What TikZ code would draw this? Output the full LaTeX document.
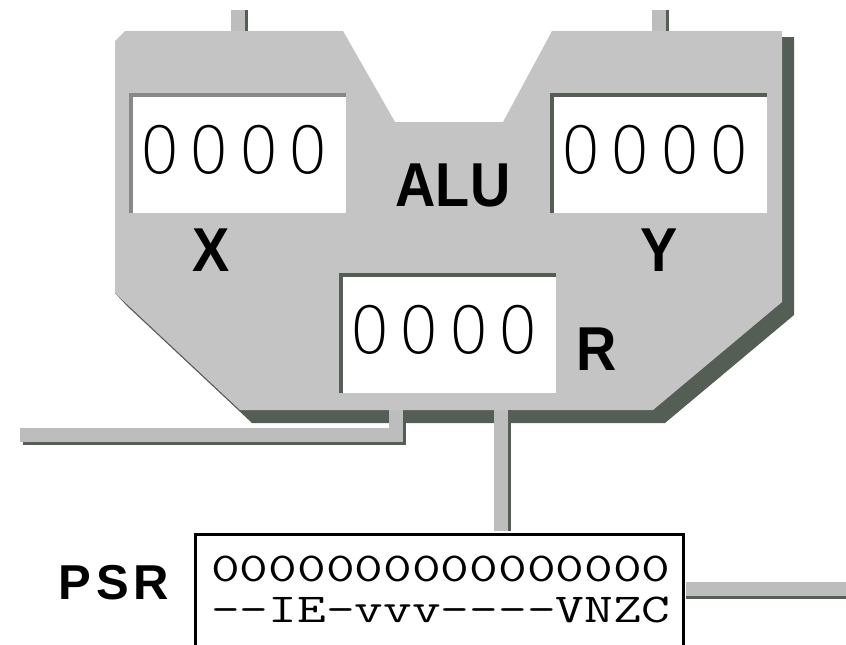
\documentclass[tikz,border=0pt]{standalone}
\usepackage{fontspec}
\usepackage{tikz}
\usetikzlibrary{positioning}
\newfontfamily\lblfont[FakeStretch=0.9]{Liberation Sans Bold}
\newfontfamily\psrlblfont[LetterSpace=10]{Liberation Sans Bold}
\newfontfamily\digfont[LetterSpace=12.5]{DejaVu Sans ExtraLight}
\newfontfamily\psrfont[FakeStretch=1.36]{Latin Modern Mono}
\definecolor{alugray}{HTML}{C4C4C4}
\definecolor{wiregray}{HTML}{BDBDBD}
\definecolor{darkrim}{HTML}{555E55}
\definecolor{lightrim}{HTML}{888888}

\begin{document}
\begin{tikzpicture}[x=1pt, y=-1pt,
    wire/.style={wiregray, line width=14pt},
    wireshadow/.style={darkrim, line width=14pt},
    reg/.style={fill=white, minimum width=217pt, minimum height=120pt, inner sep=0pt, anchor=north west},
    rimline/.style={darkrim, line width=4pt},
    digits/.style={font=\digfont\fontsize{65}{65}\selectfont, inner sep=0pt, anchor=base west},
    lbl/.style={font=\lblfont\fontsize{62}{62}\selectfont, inner sep=0pt},
    bits/.style={font=\psrfont\fontsize{41}{41}\selectfont, inner sep=0pt, align=left, anchor=north west}]
    \clip (0,0) rectangle (846,645);

    % operand buses from above
    \coordinate (xin) at (238,10);
    \coordinate (yin) at (659,10);
    \draw [wireshadow] ([xshift=3pt]xin) -- ++(0,30);
    \draw [wire] (xin) -- ++(0,30);
    \draw [wireshadow] ([xshift=3pt]yin) -- ++(0,30);
    \draw [wire] (yin) -- ++(0,30);

    % ALU body and its shadow
    \fill [darkrim] (115,293) -- (782,37) -- (794,37) -- (794,315) -- (665,423) -- (252,423) -- (127,306) -- cycle;
    \fill [alugray] (125,31) -- (343,31) -- (395,122) -- (503,122) -- (552,31) -- (782,31)
        -- (782,302) -- (653,410) -- (240,410) -- (115,293) -- (115,41) -- cycle;

    % registers
    \node [reg] (xreg) at (129,93) {};
    \draw [rimline, lightrim] ([xshift=2pt]xreg.south west) |- ([yshift=-2pt]xreg.north east);
    \node [reg] (yreg) at (550,93) {};
    \draw [rimline] ([xshift=2pt]yreg.south west) |- ([yshift=-2pt]yreg.north east);
    \node [reg] (rreg) at (339,273) {};
    \draw [rimline] ([xshift=2pt]rreg.south west) |- ([yshift=-2pt]rreg.north east);

    \node [digits] (xval) at ([shift={(10pt,-80pt)}]xreg.north west) {0000};
    \node [digits] (yval) at ([shift={(10pt,-80pt)}]yreg.north west) {0000};
    \node [digits] (rval) at ([shift={(10pt,-80pt)}]rreg.north west) {0000};

    \node [lbl] (alulbl) at (453,185) {ALU};
    \node [lbl] (xlbl) at (211,250) {X};
    \node [lbl] (ylbl) at (659,250) {Y};
    \node [lbl] (rlbl) at (597,349) {R};

    % status register
    \node [draw, line width=3pt, minimum width=488pt, minimum height=140pt, inner sep=0pt, anchor=north west] (psr) at (193.5,532.5) {};
    \node [lbl, font=\psrlblfont\fontsize{49}{49}\selectfont] (psrlbl) at (114,583) {PSR};
    \node [bits] (psrbits) at (211,555.5) {0000000000000000\\-{}-IE-vvv-{}-{}-{}-VNZC};

    % result and flag buses
    \coordinate (ltap) at (396,410);
    \coordinate (lend) at (20,435);
    \draw [wireshadow] ([shift={(3pt,-3pt)}]ltap) |- ([shift={(3pt,-3pt)}]lend);
    \draw [wire] (ltap) |- (lend);

    \coordinate (rtap) at (501,410);
    \path (rtap |- psr.north) ++(0,-1.5) coordinate (psrin);
    \draw [wireshadow] ([xshift=3pt]rtap) -- ([xshift=3pt]psrin);
    \draw [wire] (rtap) -- (psrin);

    \coordinate (psrout) at (846,589);
    \path (psrout -| psr.east) ++(1.5,0) coordinate (psrjoin);
    \draw [wireshadow] ([yshift=-3pt]psrjoin) -- ([yshift=-3pt]psrout);
    \draw [wire] (psrjoin) -- (psrout);
\end{tikzpicture}
\end{document}
